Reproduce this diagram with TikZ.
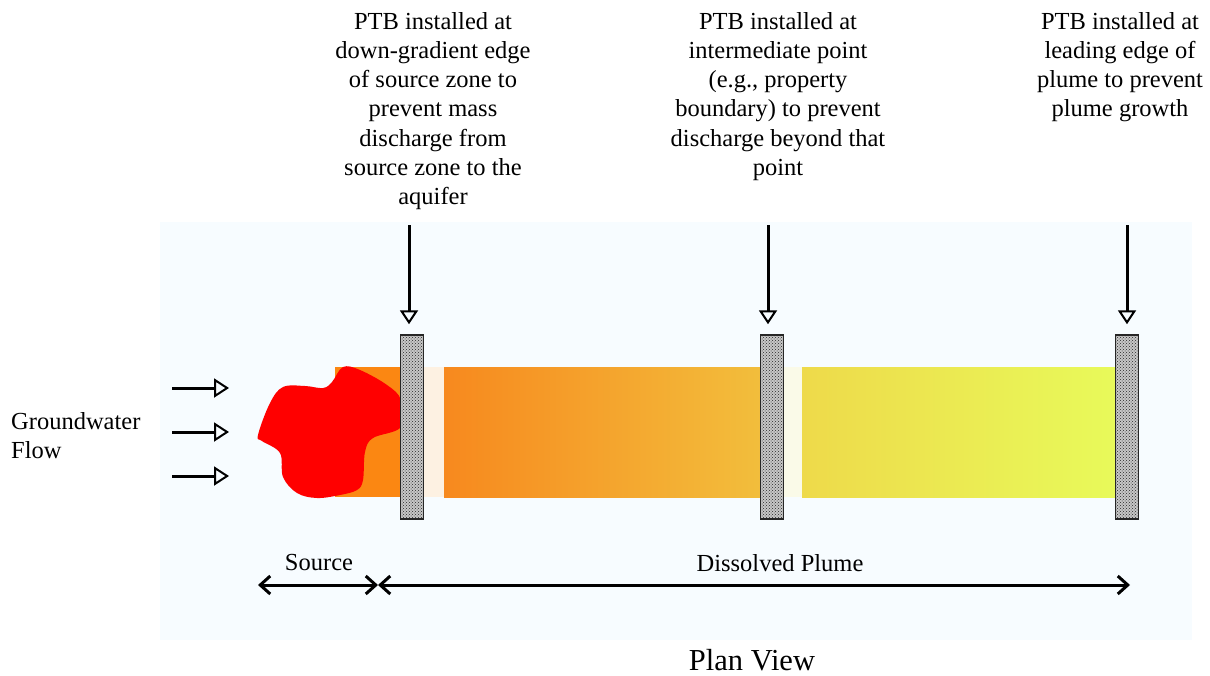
\documentclass[tikz,border=0pt]{standalone}
\usepackage{fontspec}
\setmainfont{Liberation Serif}
\usetikzlibrary{arrows.meta,patterns,positioning}

\definecolor{bgpale}{RGB}{247,252,255}
\definecolor{srcorange}{RGB}{251,135,18}
\definecolor{blobred}{RGB}{255,0,0}
\definecolor{gapA}{RGB}{253,241,226}
\definecolor{gapB}{RGB}{250,250,232}
\definecolor{plumeA}{RGB}{247,137,30}
\definecolor{plumeB}{RGB}{242,190,60}
\definecolor{plumeC}{RGB}{238,218,74}
\definecolor{plumeD}{RGB}{232,250,90}

\tikzset{
  labtext/.style={font=\fontsize{24.5}{29.2}\selectfont, align=center, inner sep=0pt},
  ptbwall/.style={draw=black!85, line width=1.5pt, fill=black!22, minimum width=23pt,
    minimum height=184pt, inner sep=0pt,
    postaction={pattern=crosshatch dots, pattern color=black!85}},
  ptbarrow/.style={line width=3pt, shorten >=10pt, -{Triangle[open, length=14pt, width=18pt, line width=2pt]}},
  flowarrow/.style={line width=3pt, -{Triangle[open, length=15pt, width=19pt, line width=2pt]}},
  spanarrow/.style={line width=3pt, {Straight Barb[length=10pt, width=18pt]}-{Straight Barb[length=10pt, width=18pt]}}
}

\begin{document}
\begin{tikzpicture}[x=1pt, y=-1pt]
  \useasboundingbox (0,0) rectangle (1210,675);

  %%%%% background and plume %%%%%
  \fill[bgpale] (160,222) rectangle (1192,640);
  \fill[srcorange] (335,367) rectangle (401,497);
  \fill[gapA] (424,367) rectangle (444,497);
  \shade[left color=plumeA, right color=plumeB] (444,367) rectangle (762,497);
  \fill[gapB] (783,367) rectangle (802,497);
  \shade[left color=plumeC, right color=plumeD] (802,367) rectangle (1116,497);

  %%%%% source blob %%%%%
  \fill[blobred] plot[smooth cycle, tension=0.6] coordinates {
    (258,435) (270,403) (283,387) (305,386) (323,388) (332,382) (343,367)
    (360,370) (387,385) (401,400) (401,427) (373,438) (365,452) (363,480)
    (357,490) (340,495) (317,498) (297,493) (283,477) (280,453) (262,441)};

  %%%%% barriers %%%%%
  \node[ptbwall] (wallA) at (412,427) {};
  \node[ptbwall] (wallB) at (772,427) {};
  \node[ptbwall] (wallC) at (1127,427) {};

  \coordinate (topA) at (409,225);
  \coordinate (topB) at (768,225);
  \coordinate (topC) at (1127,225);
  \draw[ptbarrow] (topA) -- (topA |- wallA.north);
  \draw[ptbarrow] (topB) -- (topB |- wallB.north);
  \draw[ptbarrow] (topC) -- (topC |- wallC.north);

  %%%%% labels %%%%%
  \node[labtext, anchor=north] (labA) at (433,12) {PTB installed at\\down-gradient edge\\of source zone to\\prevent mass\\discharge from\\source zone to the\\aquifer};
  \node[labtext, anchor=north] (labB) at (778,12) {PTB installed at\\intermediate point\\(e.g., property\\boundary) to prevent\\discharge beyond that\\point};
  \node[labtext, anchor=north] (labC) at (1120,12) {PTB installed at\\leading edge of\\plume to prevent\\plume growth};

  %%%%% groundwater flow %%%%%
  \node[labtext, align=left, anchor=north west] (gwflow) at (11,412) {Groundwater\\Flow};
  \foreach \y/\n in {388/a,432/b,476/c}{
    \coordinate (flow\n s) at (172,\y);
    \coordinate (flow\n e) at (229,\y);
    \draw[flowarrow] (flow\n s) -- (flow\n e);
  }

  %%%%% extents %%%%%
  \coordinate (srcL) at (258,585);
  \coordinate (srcR) at (378,585);
  \coordinate (plumeR) at (1130,585);
  \draw[spanarrow] (srcL) -- (srcR);
  \draw[spanarrow] (srcR) -- (plumeR);
  \node[labtext] (srclab) at (319,563) {Source};
  \node[labtext] (plumelab) at (780,563) {Dissolved Plume};

  \node[labtext, font=\fontsize{30.5}{36}\selectfont, anchor=base] (planview) at (752,670) {Plan View};
\end{tikzpicture}
\end{document}
